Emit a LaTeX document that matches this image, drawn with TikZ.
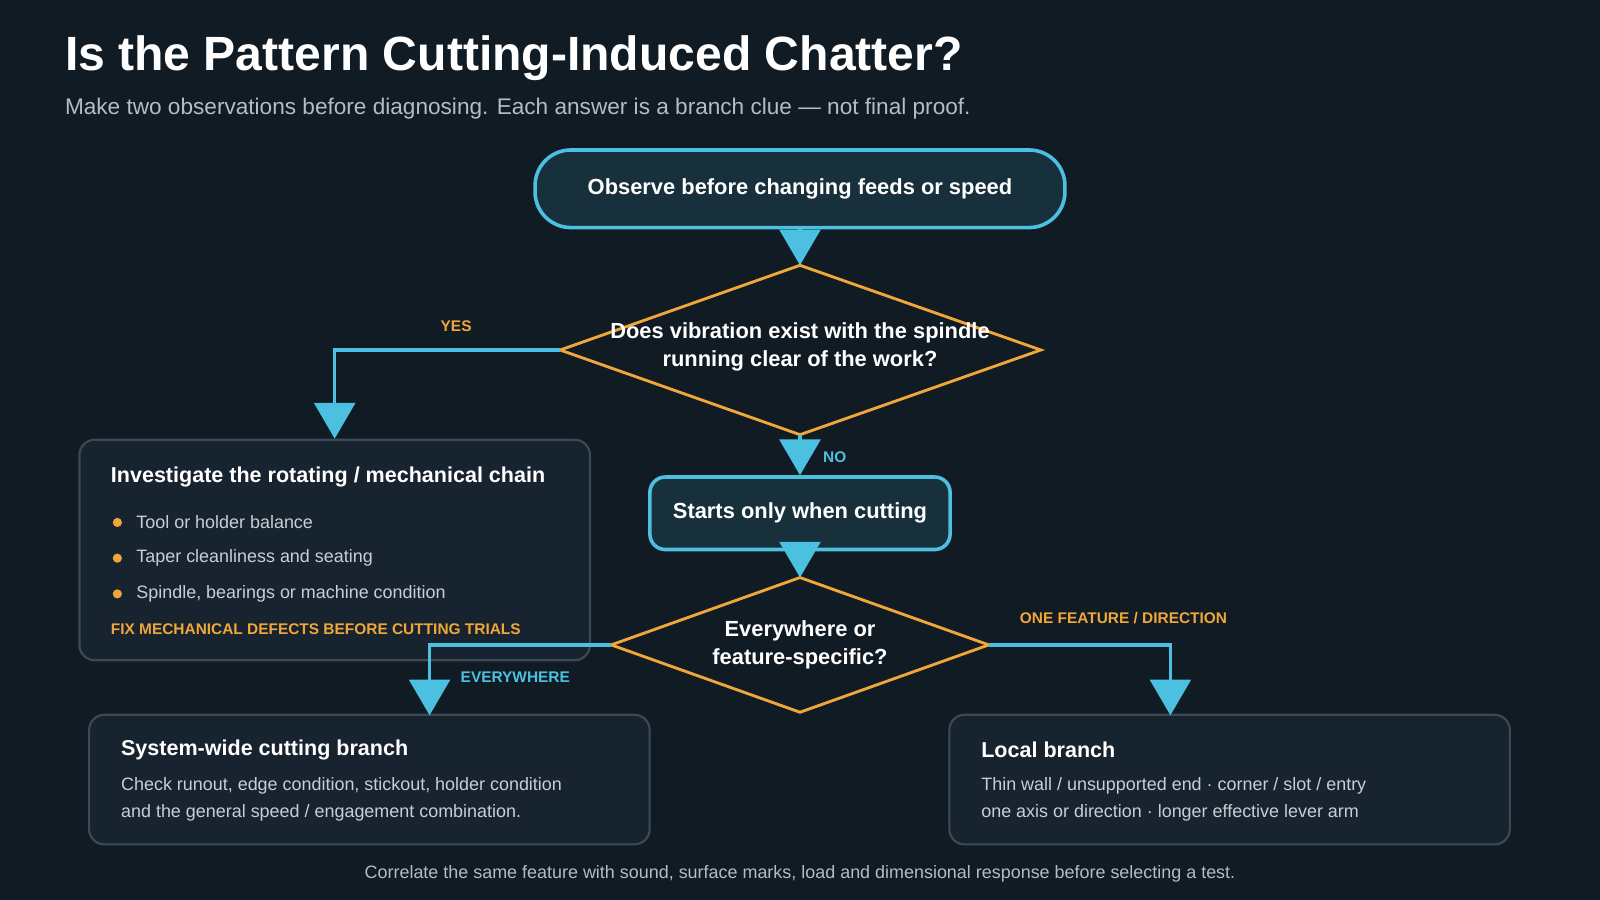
\documentclass[tikz,border=0pt]{standalone}
\usepackage{fontspec}
\setmainfont{Liberation Sans}
\usetikzlibrary{arrows.meta,shapes.geometric,positioning}
\definecolor{bgdark}{HTML}{111B23}
\definecolor{cyanline}{HTML}{4BC0E0}
\definecolor{orangeline}{HTML}{F0A63A}
\definecolor{nodefill}{HTML}{17303B}
\definecolor{boxfill}{HTML}{17242F}
\definecolor{boxline}{HTML}{3A4A56}
\definecolor{subgray}{HTML}{B4BCC4}
\definecolor{bodygray}{HTML}{C8CED4}
\newcommand{\fs}[1]{\fontsize{#1}{#1*1.2}\selectfont}
\begin{document}
\begin{tikzpicture}[x=0.01cm,y=-0.01cm,
        pill/.style={draw=cyanline, line width=1pt, fill=nodefill, rounded corners=0.35cm, text=white, font=\fs{6.1pt}\bfseries},
        decide/.style={draw=orangeline, line width=0.8pt, fill=bgdark},
        decidetext/.style={text=white, font=\fontsize{6.1pt}{8pt}\selectfont\bfseries, align=center},
        panel/.style={draw=boxline, line width=0.6pt, fill=boxfill, rounded corners=0.15cm},
        flow/.style={cyanline, line width=0.9pt, -{Triangle[width=0.4cm,length=0.35cm]}},
        tag/.style={font=\fs{4.3pt}\bfseries},
        bodytext/.style={text=bodygray, font=\fs{5pt}, anchor=west, inner sep=0pt},
        headtext/.style={text=white, font=\fs{6pt}\bfseries, anchor=west, inner sep=0pt}
    ]
        % background and page
        \fill[bgdark] (0,0) rectangle (1568,882);
        \useasboundingbox (0,0) rectangle (1568,882);

        % heading
        \node[anchor=west, inner sep=0pt, text=white, font=\fs{13.4pt}\bfseries] (title) at (63,57) {Is the Pattern Cutting-Induced Chatter?};
        \node[anchor=west, inner sep=0pt, text=subgray, font=\fs{6.3pt}] (subtitle) at (63,106) {Make two observations before diagnosing. Each answer is a branch clue — not final proof.};

        % main flow
        \node[pill, minimum width=5.19cm, minimum height=0.76cm] (observe) at (784,185) {Observe before changing feeds or speed};

        \coordinate (sp-n) at (784,260); \coordinate (sp-s) at (784,426);
        \coordinate (sp-w) at (549,343); \coordinate (sp-e) at (1020,343);
        \draw[decide] (sp-n) -- (sp-e) -- (sp-s) -- (sp-w) -- cycle;
        \node[decidetext] (spindle) at (784,340) {Does vibration exist with the spindle\\running clear of the work?};

        \node[pill, rounded corners=0.15cm, minimum width=2.94cm, minimum height=0.71cm] (cutting) at (784,503) {Starts only when cutting};

        \coordinate (wh-n) at (784,566); \coordinate (wh-s) at (784,698);
        \coordinate (wh-w) at (599,632); \coordinate (wh-e) at (969,632);
        \draw[decide] (wh-n) -- (wh-e) -- (wh-s) -- (wh-w) -- cycle;
        \node[decidetext] (where) at (784,632) {Everywhere or\\feature-specific?};

        % mechanical chain panel
        \node[panel, minimum width=5cm, minimum height=2.16cm] (mech) at (328,539) {};
        \node[headtext] (mechhead) at (108,467) {Investigate the rotating / mechanical chain};
        \foreach \y/\txt in {512/Tool or holder balance, 547/Taper cleanliness and seating, 582/{Spindle, bearings or machine condition}}{
            \fill[orangeline] (115,\y) circle (4.5);
            \node[bodytext] at (133,\y) {\txt};
        }
        \node[tag, text=orangeline, anchor=west, inner sep=0pt] (mechfix) at (108,617) {FIX MECHANICAL DEFECTS BEFORE CUTTING TRIALS};

        % result panels
        \node[panel, minimum width=5.49cm, minimum height=1.27cm] (system) at (362,764) {};
        \node[headtext] at (118,735) {System-wide cutting branch};
        \node[bodytext] at (118,770) {Check runout, edge condition, stickout, holder condition};
        \node[bodytext] at (118,797) {and the general speed / engagement combination.};

        \node[panel, minimum width=5.49cm, minimum height=1.27cm] (local) at (1205,764) {};
        \node[headtext] at (961,735) {Local branch};
        \node[bodytext] at (961,770) {Thin wall / unsupported end · corner / slot / entry};
        \node[bodytext] at (961,797) {one axis or direction · longer effective lever arm};

        % connectors
        \draw[flow] (observe) -- (sp-n);
        \draw[flow] (sp-w) -| (mech.north);
        \draw[flow] (sp-s) -- (cutting);
        \draw[flow] (cutting) -- (wh-n);
        \draw[flow] (wh-w) -| (421,701);
        \draw[flow] (wh-e) -| (1147,701);

        % branch labels
        \node[tag, text=orangeline] (yes) at (447,320) {YES};
        \node[tag, text=cyanline] (no) at (818,448) {NO};
        \node[tag, text=cyanline] (every) at (505,664) {EVERYWHERE};
        \node[tag, text=orangeline] (onefeat) at (1101,606) {ONE FEATURE / DIRECTION};

        % footer
        \node[text=subgray, font=\fs{5pt}] (note) at (784,856) {Correlate the same feature with sound, surface marks, load and dimensional response before selecting a test.};
    \end{tikzpicture}
\end{document}
